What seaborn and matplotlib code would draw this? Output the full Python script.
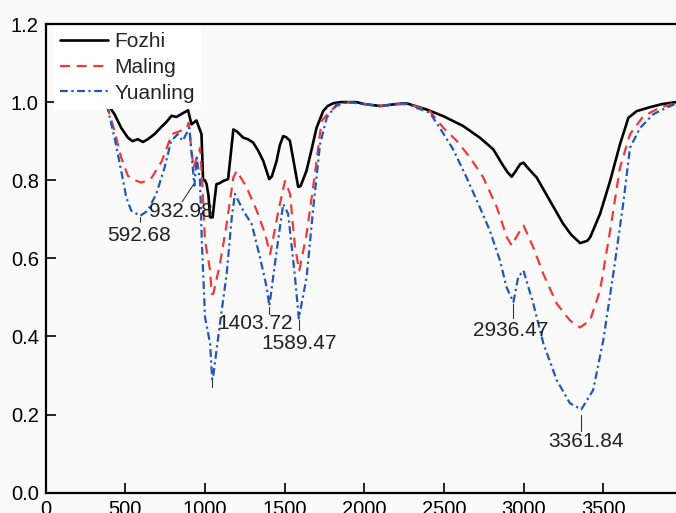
import numpy as np
import pandas as pd
import matplotlib
matplotlib.use("Agg")
import matplotlib.pyplot as plt
import seaborn as sns

# FTIR spectra (wavenumber, relative transmittance)
fozhi_x = [380, 432, 474, 516, 545, 578, 610, 641, 683, 725, 760, 790, 820, 850, 875,
           894, 915, 946, 978, 988, 1000, 1010, 1022, 1032, 1048, 1060, 1072, 1090,
           1114, 1145, 1160, 1178, 1200, 1240, 1270, 1303, 1335, 1366, 1403, 1420,
           1449, 1470, 1491, 1510, 1533, 1560, 1585, 1600, 1637, 1670, 1700, 1742,
           1770, 1805, 1850, 1950, 2000, 2100, 2200, 2265, 2320, 2392, 2496, 2620,
           2725, 2810, 2872, 2900, 2925, 2945, 2978, 2999, 3030, 3082, 3166, 3249,
           3300, 3355, 3400, 3418, 3480, 3543, 3605, 3658, 3710, 3793, 3870, 3957]
fozhi_y = [1.0, 0.969, 0.934, 0.909, 0.90, 0.905, 0.898, 0.905, 0.918, 0.936, 0.950,
           0.965, 0.962, 0.969, 0.975, 0.979, 0.943, 0.953, 0.918, 0.80, 0.80, 0.79,
           0.76, 0.705, 0.705, 0.75, 0.790, 0.792, 0.798, 0.803, 0.86, 0.930, 0.925,
           0.909, 0.905, 0.896, 0.875, 0.849, 0.803, 0.81, 0.849, 0.89, 0.913, 0.91,
           0.901, 0.84, 0.783, 0.785, 0.824, 0.88, 0.934, 0.977, 0.99, 0.997, 1.0,
           1.0, 0.995, 0.990, 0.995, 0.997, 0.99, 0.981, 0.964, 0.939, 0.909, 0.879,
           0.837, 0.82, 0.809, 0.82, 0.841, 0.845, 0.83, 0.807, 0.747, 0.688, 0.66,
           0.639, 0.645, 0.654, 0.714, 0.798, 0.892, 0.960, 0.977, 0.987, 0.995, 1.0]

maling_x = [383, 432, 474, 516, 560, 600, 640, 666, 729, 792, 844, 886, 896, 928, 970,
            985, 1000, 1032, 1042, 1052, 1094, 1136, 1178, 1199, 1262, 1325, 1377,
            1409, 1461, 1502, 1534, 1565, 1592, 1638, 1690, 1732, 1784, 1826, 1900,
            2000, 2100, 2200, 2286, 2411, 2497, 2580, 2664, 2747, 2832, 2895, 2925,
            2978, 3000, 3061, 3124, 3208, 3291, 3354, 3417, 3480, 3543, 3605, 3668,
            3752, 3856, 3957]
maling_y = [0.994, 0.926, 0.858, 0.811, 0.80, 0.794, 0.80, 0.807, 0.849, 0.918, 0.926,
            0.934, 0.947, 0.832, 0.883, 0.773, 0.645, 0.569, 0.509, 0.509, 0.586,
            0.688, 0.807, 0.824, 0.781, 0.722, 0.663, 0.611, 0.722, 0.798, 0.765,
            0.628, 0.569, 0.663, 0.816, 0.952, 0.977, 0.99, 1.0, 0.995, 0.99, 0.995,
            0.994, 0.977, 0.934, 0.901, 0.858, 0.807, 0.731, 0.654, 0.633, 0.671,
            0.684, 0.628, 0.560, 0.484, 0.441, 0.423, 0.441, 0.518, 0.671, 0.832,
            0.918, 0.964, 0.986, 0.998]

yuanling_x = [383, 432, 474, 506, 537, 593, 641, 694, 746, 788, 829, 860, 902, 933,
              948, 969, 980, 1000, 1032, 1045, 1052, 1094, 1136, 1168, 1188, 1240,
              1293, 1345, 1387, 1404, 1450, 1491, 1522, 1565, 1589, 1638, 1680, 1722,
              1764, 1826, 1900, 2000, 2100, 2200, 2265, 2330, 2411, 2474, 2558, 2642,
              2725, 2788, 2852, 2893, 2936, 2966, 2999, 3061, 3124, 3208, 3291, 3362,
              3437, 3500, 3563, 3625, 3668, 3731, 3814, 3898, 3957]
yuanling_y = [0.994, 0.909, 0.824, 0.756, 0.722, 0.709, 0.722, 0.765, 0.832, 0.901,
              0.918, 0.901, 0.934, 0.786, 0.858, 0.798, 0.645, 0.450, 0.382, 0.29,
              0.30, 0.433, 0.560, 0.705, 0.765, 0.722, 0.688, 0.603, 0.526, 0.478,
              0.620, 0.739, 0.714, 0.552, 0.446, 0.552, 0.731, 0.892, 0.960, 0.994,
              1.0, 0.995, 0.99, 0.995, 0.997, 0.985, 0.973, 0.934, 0.879, 0.807,
              0.731, 0.671, 0.594, 0.526, 0.488, 0.552, 0.569, 0.484, 0.382, 0.288,
              0.229, 0.213, 0.263, 0.390, 0.560, 0.739, 0.883, 0.934, 0.969, 0.986,
              0.996]

# peak labels: label text, peak x, tick top/bottom y, text x/y
peak_labels = ["592.68", "932.98", "", "1403.72", "1589.47", "2936.47", "3361.84"]
peak_x = [592.68, 926.0, 1045.0, 1403.72, 1589.47, 2936.47, 3361.84]
tick_top = [0.707, 0.788, 0.288, 0.476, 0.442, 0.482, 0.200]
tick_bot = [0.692, 0.745, 0.270, 0.457, 0.417, 0.447, 0.158]
text_x = [589, 848, 1045, 1314, 1590, 2921, 3389]
text_y = [0.658, 0.719, 0.25, 0.432, 0.381, 0.415, 0.130]

sns.set_style("ticks")
plt.rcParams["font.family"] = ["Liberation Sans", "DejaVu Sans"]

bg = "#fafafa"
fig = plt.figure(figsize=(6.76, 5.13), dpi=100, facecolor=bg)
ax = fig.add_axes([0.0676, 0.0396, 0.9426, 0.9136])
ax.set_facecolor(bg)

sns.lineplot(x=fozhi_x, y=fozhi_y, ax=ax, color="black", lw=1.9, label="Fozhi")
sns.lineplot(x=maling_x, y=maling_y, ax=ax, color="#f03a3a", lw=1.6, label="Maling")
ax.lines[-1].set_dashes((4.5, 3.0))
sns.lineplot(x=yuanling_x, y=yuanling_y, ax=ax, color="#2158b8", lw=1.6, label="Yuanling")
ax.lines[-1].set_dashes((3.5, 1.6, 1.0, 1.6))

for i, lab in enumerate(peak_labels):
    if i == 1:
        # slanted leader for the crowded 932.98 peak
        ax.plot([peak_x[i], 857], [tick_top[i], tick_bot[i]], color="#333333", lw=0.8)
    else:
        ax.plot([peak_x[i], peak_x[i]], [tick_top[i], tick_bot[i]], color="#333333", lw=0.8)
    if lab:
        ax.text(text_x[i], text_y[i], lab, ha="center", va="center",
                fontsize=15, color="#222222")

ax.set_xlim(0, 4000)
ax.set_ylim(0, 1.2)
ax.set_xticks(np.arange(0, 4000, 500))
ax.set_yticks(np.arange(0, 1.21, 0.2))
ax.yaxis.set_major_formatter(matplotlib.ticker.FormatStrFormatter("%.1f"))
ax.tick_params(direction="in", length=7, width=1.2, labelsize=14.5, pad=5,
               colors="black")
for s in ax.spines.values():
    s.set_linewidth(1.6)
    s.set_color("black")
ax.set_xlabel("")
ax.set_ylabel("")

leg = ax.legend(loc="upper left", bbox_to_anchor=(0.01, 1.0), frameon=True,
                facecolor="white", edgecolor="none", framealpha=1, fontsize=15,
                handlelength=2.3, handletextpad=0.3, labelspacing=0.32,
                borderaxespad=0.1, borderpad=0.3, fancybox=False)

fig.savefig("out.png", dpi=100, facecolor=bg)
